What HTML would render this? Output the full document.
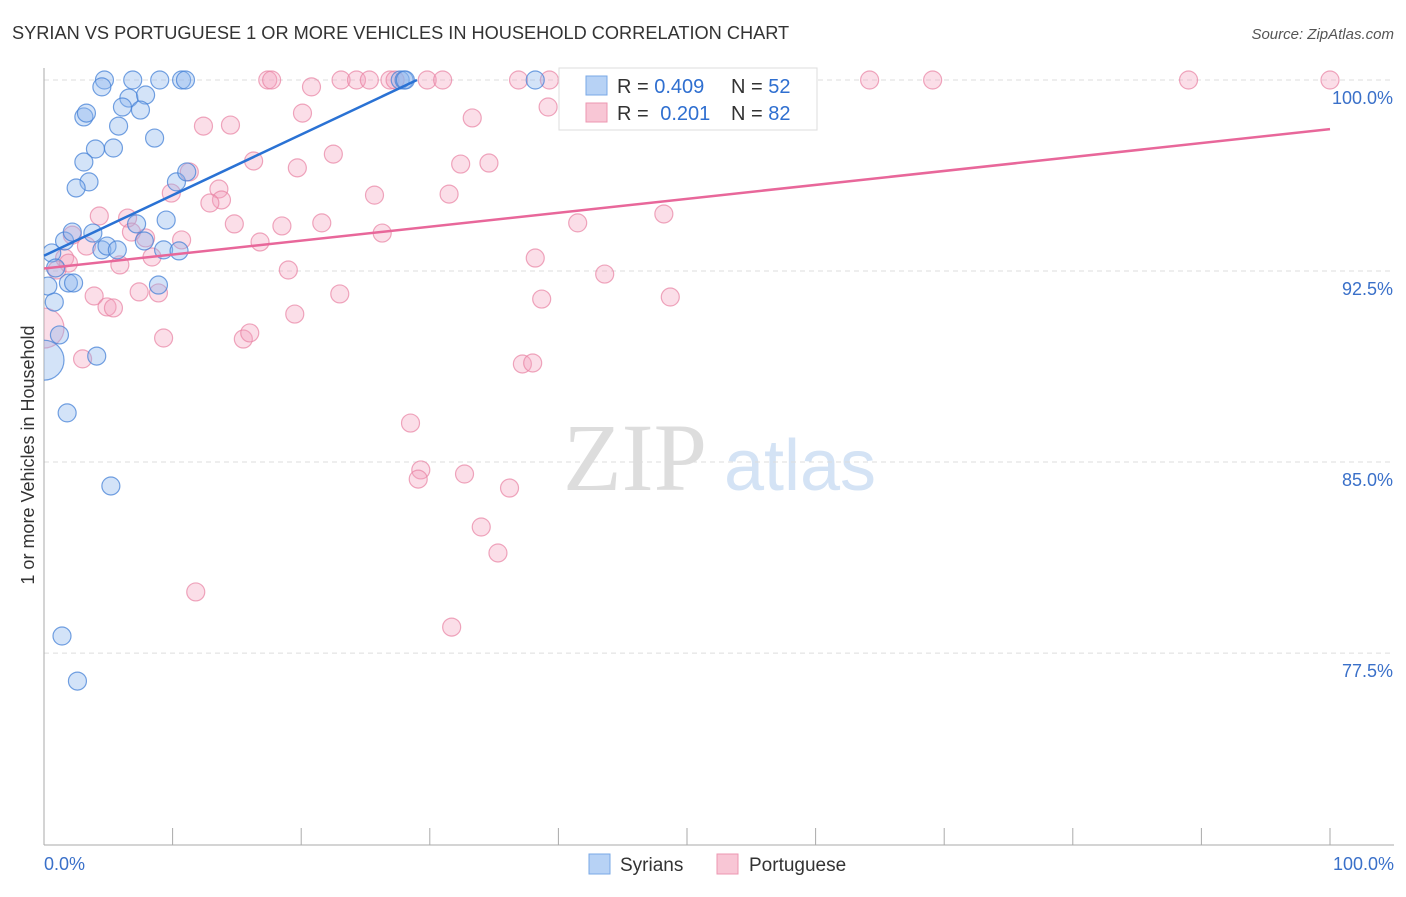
<!DOCTYPE html>
<html><head><meta charset="utf-8">
<style>
body{margin:0;background:#fff;font-family:"Liberation Sans",sans-serif;}
svg text{font-family:"Liberation Sans",sans-serif;}
</style></head>
<body>
<svg id="chart" width="1406" height="892" viewBox="0 0 1406 892">
<defs><clipPath id="plotclip"><rect x="44" y="40" width="1362" height="805"/></clipPath></defs>
<text x="12" y="39" font-size="18.2" fill="#333">SYRIAN VS PORTUGUESE 1 OR MORE VEHICLES IN HOUSEHOLD CORRELATION CHART</text>
<text x="1394" y="39" font-size="15" fill="#555" text-anchor="end" font-style="italic">Source: ZipAtlas.com</text>
<text transform="translate(34,455) rotate(-90)" font-size="18" fill="#333" text-anchor="middle">1 or more Vehicles in Household</text>
<g>
<text x="635" y="490" font-size="96" fill="#ddd" text-anchor="middle" font-family="Liberation Serif" style="font-family:'Liberation Serif',serif">ZIP</text>
<text x="800" y="490" font-size="72" fill="#d4e3f5" text-anchor="middle">atlas</text>
</g>
<g id="grid"></g>
<g id="axes"></g>
<g id="pts" clip-path="url(#plotclip)"></g>
<g id="lines"></g>
<g>
<rect x="559" y="68" width="258" height="62" fill="#fff" stroke="#ddd"/>
<rect x="586" y="76" width="21" height="19" fill="#b7d2f5" stroke="#7aa8e6"/>
<text x="617" y="93" font-size="20" fill="#333">R = <tspan fill="#2f6fd0">0.409</tspan></text>
<text x="731" y="93" font-size="20" fill="#333">N = <tspan fill="#2f6fd0">52</tspan></text>
<rect x="586" y="103" width="21" height="19" fill="#f8c6d5" stroke="#ec97b1"/>
<text x="617" y="120" font-size="20" fill="#333">R = <tspan fill="#2f6fd0" dx="6">0.201</tspan></text>
<text x="731" y="120" font-size="20" fill="#333">N = <tspan fill="#2f6fd0">82</tspan></text>
</g>
<g>
<rect x="589" y="854" width="21" height="20" fill="#b7d2f5" stroke="#7aa8e6"/>
<text x="620" y="871" font-size="19" fill="#333">Syrians</text>
<rect x="717" y="854" width="21" height="20" fill="#f8c6d5" stroke="#ec97b1"/>
<text x="749" y="871" font-size="19" fill="#333">Portuguese</text>
</g>
</svg>
<script>
const blueX=[4.7,6.9,9.0,10.7,11.0,4.5,6.6,7.9,6.1,7.5,3.1,3.3,5.8,8.6,4.0,5.4,3.1,3.5,2.5,10.3,11.1,9.5,7.2,0.6,1.6,3.8,2.2,4.5,4.9,5.7,7.8,9.3,10.5,0.9,0.3,1.9,2.3,0.8,8.9,1.2,4.1,0,1.8,5.2,1.4,2.6,27.7,28.0,28.1,38.2];
const blueY=[100,100,100,100,100,99.73,99.29,99.41,98.94,98.82,98.55,98.70,98.19,97.72,97.29,97.33,96.78,96.0,95.76,96.0,96.39,94.50,94.35,93.21,93.68,93.99,94.03,93.33,93.48,93.33,93.68,93.33,93.29,92.62,91.91,92.03,92.03,91.28,91.95,89.99,89.16,89.0,86.93,84.06,78.17,76.40,100,100,100,100];
const blueR=[9,9,9,9,9,9,9,9,9,9,9,9,9,9,9,9,9,9,9,9,9,9,9,9,9,9,9,9,9,9,9,9,9,9,9,9,9,9,9,9,9,20,9,9,9,9,9,9,9,9];
const pinkX=[17.4,17.7,23.1,24.3,25.3,26.9,27.3,29.8,31.0,36.9,39.3,47.2,64.2,69.1,89.0,100,20.8,39.2,33.3,12.4,14.5,20.1,22.5,16.3,19.7,34.6,32.4,11.3,9.9,13.6,13.8,12.9,25.7,31.5,4.3,6.5,48.2,14.8,18.5,21.6,41.5,10.7,2.2,3.3,6.8,7.9,16.8,26.3,8.4,5.9,38.2,1.6,1.9,1.0,19.0,43.6,3.9,7.4,8.9,23.0,38.7,48.7,4.9,5.4,19.5,9.3,15.5,16.0,3.0,37.2,38.0,0,28.5,29.3,29.1,32.7,36.2,34.0,35.3,11.8,31.7];
const pinkY=[100,100,100,100,100,100,100,100,100,100,100,100,100,100,100,100,99.73,98.94,98.51,98.19,98.23,98.70,97.09,96.82,96.55,96.74,96.70,96.39,95.56,95.72,95.29,95.17,95.48,95.52,94.66,94.58,94.74,94.35,94.27,94.39,94.39,93.72,93.91,93.48,94.03,93.80,93.64,93.99,93.05,92.74,93.01,93.01,92.81,92.54,92.54,92.38,91.52,91.68,91.64,91.60,91.40,91.48,91.09,91.05,90.81,89.87,89.83,90.07,89.05,88.85,88.89,90.26,86.53,84.69,84.33,84.53,83.98,82.45,81.43,79.90,78.52];
const yTicks=[100,92.5,85,77.5];
const yTickLabels=["100.0%","92.5%","85.0%","77.5%"];
const xTicks=[0,10,20,30,40,50,60,70,80,90,100];
const blueTrend=[[0,93.1],[29,100]];
const pinkTrend=[[0,92.6],[100,98.07]];

const NS="http://www.w3.org/2000/svg";
const X0=44,X1=1330,YTOP=80,PXU=25.47;
const sx=v=>X0+(X1-X0)*v/100;
const sy=v=>YTOP+(100-v)*PXU;
function mk(tag,attrs,parent){const e=document.createElementNS(NS,tag);for(const k in attrs)e.setAttribute(k,attrs[k]);parent.appendChild(e);return e;}
const grid=document.getElementById('grid'),axes=document.getElementById('axes'),pts=document.getElementById('pts'),lines=document.getElementById('lines');
yTicks.forEach((t,i)=>{
  const l=mk('line',{x1:X0,x2:1394,y1:sy(t),y2:sy(t),stroke:'#ddd','stroke-dasharray':'5,4'},grid);
  
  
  const tx=mk('text',{x:1393,y:sy(t)+24,'font-size':18,fill:'#3a70c9','text-anchor':'end'},axes);
  tx.textContent=yTickLabels[i];
  
  
});
const ya=mk('line',{x1:X0,x2:X0,y1:68,y2:845,stroke:'#aaa'},axes);


const xa=mk('line',{x1:X0,x2:1394,y1:845,y2:845,stroke:'#aaa'},axes);


xTicks.forEach(t=>{
  const l=mk('line',{x1:sx(t),x2:sx(t),y1:828,y2:845,stroke:'#aaa'},axes);
  
  
});
const xl0=mk('text',{x:44,y:870,'font-size':18,fill:'#3a70c9'},axes);xl0.textContent='0.0%';


const xl1=mk('text',{x:1394,y:870,'font-size':18,fill:'#3a70c9','text-anchor':'end'},axes);xl1.textContent='100.0%';


pinkX.forEach((x,i)=>{
  const c=mk('circle',{cx:sx(x),cy:sy(pinkY[i]),r:(x===0?20:9),fill:'rgba(244,160,188,0.35)',stroke:'rgba(232,130,162,0.7)','stroke-width':1.2},pts);
  
  
});
blueX.forEach((x,i)=>{
  const c=mk('circle',{cx:sx(x),cy:sy(blueY[i]),r:blueR[i],fill:'rgba(140,182,236,0.38)',stroke:'rgba(70,130,215,0.75)','stroke-width':1.2},pts);
  
  
});
const bl=mk('line',{x1:sx(blueTrend[0][0]),y1:sy(blueTrend[0][1]),x2:sx(blueTrend[1][0]),y2:sy(blueTrend[1][1]),stroke:'#2a72d4','stroke-width':2.5},lines);


const pl=mk('line',{x1:sx(pinkTrend[0][0]),y1:sy(pinkTrend[0][1]),x2:sx(pinkTrend[1][0]),y2:sy(pinkTrend[1][1]),stroke:'#e8679a','stroke-width':2.5},lines);


</script>
</body></html>
